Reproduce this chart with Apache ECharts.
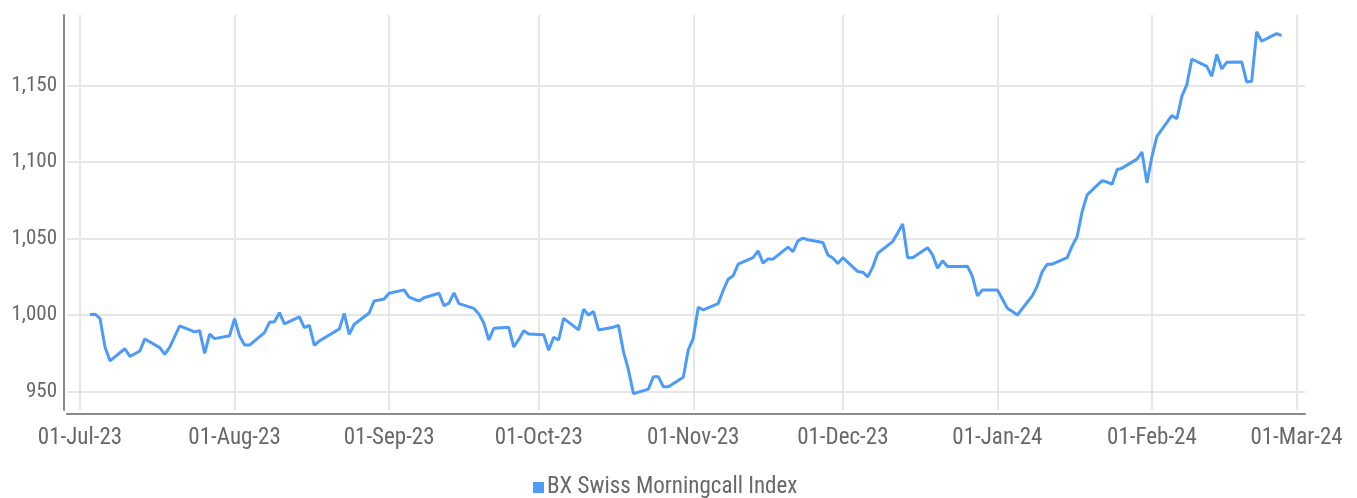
<!DOCTYPE html>
<html>
<head>
<meta charset="utf-8">
<title>BX Swiss Morningcall Index</title>
<script src="https://cdn.jsdelivr.net/npm/echarts@6/dist/echarts.min.js"></script>
<style>
  html, body { margin: 0; padding: 0; background: #ffffff; }
  #chart { width: 1357px; height: 498px; }
</style>
</head>
<body>
<div id="chart"></div>
<script>
// Daily closing levels of the index (trading days)
const dates = [
  '2023-07-03','2023-07-04','2023-07-05','2023-07-06','2023-07-07',
  '2023-07-10','2023-07-11','2023-07-12','2023-07-13','2023-07-14',
  '2023-07-17','2023-07-18','2023-07-19','2023-07-20','2023-07-21',
  '2023-07-24','2023-07-25','2023-07-26','2023-07-27','2023-07-28',
  '2023-07-31','2023-08-01','2023-08-02','2023-08-03','2023-08-04',
  '2023-08-07','2023-08-08','2023-08-09','2023-08-10','2023-08-11',
  '2023-08-14','2023-08-15','2023-08-16','2023-08-17','2023-08-18',
  '2023-08-21','2023-08-22','2023-08-23','2023-08-24','2023-08-25',
  '2023-08-28','2023-08-29','2023-08-30','2023-08-31','2023-09-01',
  '2023-09-04','2023-09-05','2023-09-06','2023-09-07','2023-09-08',
  '2023-09-11','2023-09-12','2023-09-13','2023-09-14','2023-09-15',
  '2023-09-18','2023-09-19','2023-09-20','2023-09-21','2023-09-22',
  '2023-09-25','2023-09-26','2023-09-27','2023-09-28','2023-09-29',
  '2023-10-02','2023-10-03','2023-10-04','2023-10-05','2023-10-06',
  '2023-10-09','2023-10-10','2023-10-11','2023-10-12','2023-10-13',
  '2023-10-16','2023-10-17','2023-10-18','2023-10-19','2023-10-20',
  '2023-10-23','2023-10-24','2023-10-25','2023-10-26','2023-10-27',
  '2023-10-30','2023-10-31','2023-11-01','2023-11-02','2023-11-03',
  '2023-11-06','2023-11-07','2023-11-08','2023-11-09','2023-11-10',
  '2023-11-13','2023-11-14','2023-11-15','2023-11-16','2023-11-17',
  '2023-11-20','2023-11-21','2023-11-22','2023-11-23','2023-11-24',
  '2023-11-27','2023-11-28','2023-11-29','2023-11-30','2023-12-01',
  '2023-12-04','2023-12-05','2023-12-06','2023-12-07','2023-12-08',
  '2023-12-11','2023-12-12','2023-12-13','2023-12-14','2023-12-15',
  '2023-12-18','2023-12-19','2023-12-20','2023-12-21','2023-12-22',
  '2023-12-25','2023-12-26','2023-12-27','2023-12-28','2023-12-29',
  '2024-01-01','2024-01-02','2024-01-03','2024-01-04','2024-01-05',
  '2024-01-08','2024-01-09','2024-01-10','2024-01-11','2024-01-12',
  '2024-01-15','2024-01-16','2024-01-17','2024-01-18','2024-01-19',
  '2024-01-22','2024-01-23','2024-01-24','2024-01-25','2024-01-26',
  '2024-01-29','2024-01-30','2024-01-31','2024-02-01','2024-02-02',
  '2024-02-05','2024-02-06','2024-02-07','2024-02-08','2024-02-09',
  '2024-02-12','2024-02-13','2024-02-14','2024-02-15','2024-02-16',
  '2024-02-19','2024-02-20','2024-02-21','2024-02-22','2024-02-23',
  '2024-02-26','2024-02-27'
];

const values = [
  1000.3, 1000.5, 997.8, 979.2, 970.0,
  977.9, 972.9, 974.6, 976.4, 984.3,
  978.6, 974.2, 979.0, 986.0, 992.8,
  988.9, 989.7, 974.9, 987.5, 984.5,
  986.4, 997.6, 986.2, 980.3, 980.3,
  988.4, 995.2, 995.6, 1001.5, 994.1,
  998.7, 991.7, 993.2, 980.1, 983.0,
  988.9, 990.8, 1000.9, 987.3, 993.9,
  1001.3, 1009.2, 1009.8, 1010.5, 1014.2,
  1016.4, 1011.6, 1010.3, 1009.2, 1011.3,
  1014.2, 1006.1, 1007.7, 1014.4, 1007.4,
  1004.3, 1000.7, 994.6, 983.6, 991.3,
  991.9, 979.0, 984.0, 989.7, 987.5,
  987.1, 976.9, 985.4, 983.6, 997.8,
  990.2, 1003.7, 1000.0, 1002.2, 990.2,
  992.0, 993.2, 976.0, 964.0, 948.5,
  951.5, 959.6, 959.6, 953.0, 953.0,
  959.2, 977.1, 984.7, 1005.0, 1003.3,
  1007.4, 1016.0, 1023.4, 1025.6, 1033.2,
  1037.5, 1041.9, 1033.9, 1036.7, 1036.5,
  1044.4, 1041.5, 1048.5, 1050.3, 1049.2,
  1047.4, 1039.3, 1037.2, 1033.6, 1037.5,
  1028.4, 1028.0, 1024.9, 1031.3, 1040.4,
  1048.0, 1053.7, 1059.6, 1037.5, 1037.5,
  1044.0, 1039.3, 1030.6, 1035.4, 1031.7,
  1031.7, 1031.9, 1025.1, 1012.5, 1016.4,
  1016.4, 1010.4, 1004.4, 1002.2, 1000.0,
  1012.5, 1019.0, 1028.4, 1033.2, 1033.2,
  1037.5, 1045.2, 1051.3, 1067.7, 1078.6,
  1087.9, 1087.0, 1085.6, 1095.0, 1096.1,
  1102.0, 1106.6, 1086.3, 1103.7, 1116.8,
  1130.6, 1128.4, 1143.0, 1150.7, 1167.5,
  1162.7, 1156.2, 1170.4, 1161.0, 1165.3,
  1165.6, 1152.5, 1152.9, 1185.3, 1179.1,
  1184.1, 1182.8
];

const seriesName = 'BX Swiss Morningcall Index';

// Axis tick positions
const monthTicks = [
  '2023-07-01','2023-08-01','2023-09-01','2023-10-01','2023-11-01',
  '2023-12-01','2024-01-01','2024-02-01','2024-03-01'
];
const valueTicks = [950, 1000, 1050, 1100, 1150];

const monthNames = ['Jan','Feb','Mar','Apr','May','Jun','Jul','Aug','Sep','Oct','Nov','Dec'];

function toUTC(s) {
  const p = s.split('-').map(Number);
  return Date.UTC(p[0], p[1] - 1, p[2]);
}

function formatDate(ms) {
  const d = new Date(ms);
  const day = String(d.getUTCDate()).padStart(2, '0');
  const yr = String(d.getUTCFullYear() % 100).padStart(2, '0');
  return day + '-' + monthNames[d.getUTCMonth()] + '-' + yr;
}

function formatNumber(v) {
  return Math.round(v).toString().replace(/\B(?=(\d{3})+(?!\d))/g, ',');
}

const DAY = 86400000;
const seriesData = dates.map((d, i) => [toUTC(d), values[i]]);
const tickMs = monthTicks.map(toUTC);

const FONT = "'Liberation Sans Narrow', 'Roboto Condensed', 'DejaVu Sans Condensed', sans-serif";
const TEXT_COLOR = '#686868';
const GRID_COLOR = '#e6e6e6';
const AXIS_COLOR = '#8a8a8a';
const LINE_COLOR = '#4c9bf8';

const chart = echarts.init(document.getElementById('chart'), null, { renderer: 'canvas' });

chart.setOption({
  animation: false,
  backgroundColor: '#ffffff',
  textStyle: { fontFamily: FONT },
  grid: { left: 67, right: 52, top: 15, bottom: 88, containLabel: false },
  legend: {
    top: 471,
    left: 528,
    icon: 'rect',
    itemWidth: 11,
    itemHeight: 11,
    itemGap: 10,
    textStyle: { color: TEXT_COLOR, fontSize: 23, fontFamily: FONT, padding: [0, 0, 0, -2] },
    data: [seriesName]
  },
  xAxis: {
    // timestamps on a linear axis; month starts supplied as tick values
    type: 'value',
    min: toUTC('2023-07-01') - 2.61 * DAY,
    max: toUTC('2023-07-01') + 245.7 * DAY,
    offset: 4,
    axisLine: { show: true, lineStyle: { color: AXIS_COLOR, width: 2 } },
    axisTick: { show: false, customValues: tickMs },
    axisLabel: {
      customValues: tickMs,
      color: TEXT_COLOR,
      fontSize: 23,
      fontFamily: FONT,
      margin: 13,
      formatter: (v) => formatDate(v)
    },
    splitLine: { show: true, lineStyle: { color: GRID_COLOR, width: 2 } }
  },
  yAxis: {
    type: 'value',
    min: 937.8,
    max: 1196.3,
    offset: 3,
    axisLine: { show: true, lineStyle: { color: AXIS_COLOR, width: 2 } },
    axisTick: { show: false, customValues: valueTicks },
    axisLabel: {
      customValues: valueTicks,
      color: TEXT_COLOR,
      fontSize: 21,
      fontFamily: FONT,
      margin: 7,
      formatter: (v) => formatNumber(v)
    },
    splitLine: { show: true, lineStyle: { color: GRID_COLOR, width: 2 } }
  },
  series: [{
    name: seriesName,
    type: 'line',
    data: seriesData,
    showSymbol: false,
    symbol: 'none',
    color: LINE_COLOR,
    lineStyle: { color: LINE_COLOR, width: 3 }
  }]
});
</script>
</body>
</html>
